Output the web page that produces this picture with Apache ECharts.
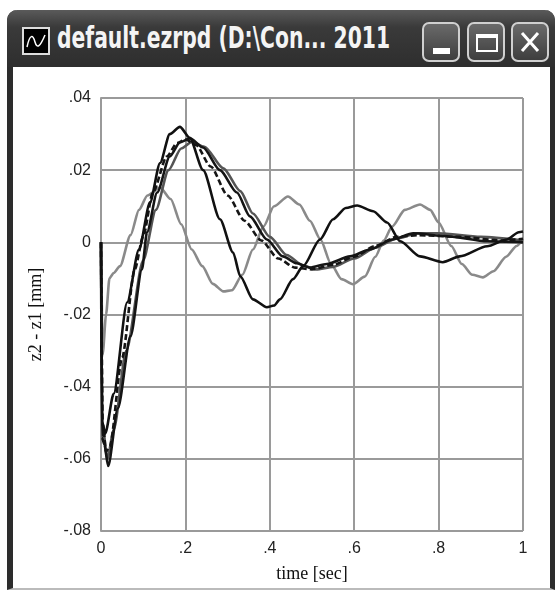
<!DOCTYPE html>
<html>
<head>
<meta charset="utf-8">
<script src="https://cdn.jsdelivr.net/npm/echarts@6/dist/echarts.min.js"></script>
<style>
  html, body { margin: 0; padding: 0; background: #fff; }
  #wrap { position: relative; width: 560px; height: 592px; overflow: hidden; }
  #frame { position: absolute; left: 7px; top: 10px; width: 548px; height: 580px;
    border-left: 6px solid #2c2c2c; border-right: 5px solid #2c2c2c; border-bottom: 2px solid #bbb;
    border-radius: 10px 10px 0 0; box-sizing: border-box; }
  #titleBar { position: absolute; left: 7px; top: 10px; width: 548px; height: 57px;
    background: linear-gradient(#5a5a5a, #3a3a3a 30%, #2e2e2e); border-radius: 10px 10px 0 0; }
  #titleText { position: absolute; left: 57px; top: 20px; color: #f4f4f4; font: bold 30px "DejaVu Sans", sans-serif;
    white-space: nowrap; transform-origin: 0 0; }
  .btn { position: absolute; top: 22px; width: 38px; height: 40px; box-sizing: border-box;
    border: 2px solid #d0d0d0; border-radius: 7px; background: linear-gradient(#6a6a6a, #3e3e3e); }
  #chart { position: absolute; left: 0; top: 0; width: 560px; height: 592px; }
</style>
</head>
<body>
<div id="wrap">
  <div id="frame"></div>
  <div id="chart"></div>
  <div id="titleBar"></div>
  <svg style="position:absolute;left:22px;top:27px" width="28" height="28">
    <rect x="1" y="1" width="26" height="26" fill="#000" stroke="#ddd" stroke-width="2"/>
    <path d="M5 20 C8 6, 11 8, 13 15 S18 20, 23 8" fill="none" stroke="#fff" stroke-width="1.5"/>
  </svg>
  <div id="titleText">default.ezrpd (D:\Con... 2011</div>
  <div class="btn" style="left:422px"><div style="position:absolute;left:9px;top:24px;width:17px;height:6px;background:#fff"></div></div>
  <div class="btn" style="left:467px"><div style="position:absolute;left:7px;top:10px;width:22px;height:18px;box-sizing:border-box;border:2px solid #fff;border-top-width:4px"></div></div>
  <div class="btn" style="left:511px">
    <svg width="34" height="36" style="position:absolute;left:0;top:0"><path d="M9 9 L25 27 M25 9 L9 27" stroke="#fff" stroke-width="3"/></svg>
  </div>
</div>
<script>
// title text squeezed to the width seen in the screenshot
const tt = document.getElementById('titleText')
tt.style.transform = 'scaleX(' + (333 / tt.offsetWidth) + ')'

// z2 - z1 [mm] vs time [sec], one array per run
const grayCurve = [[0,0],[0.004,-0.031],[0.012,-0.02],[0.02,-0.01],[0.03,-0.0085],[0.045,-0.0066],[0.07,0.002],[0.09,0.009],[0.11,0.013],[0.14,0.0152],[0.165,0.012],[0.19,0.005],[0.215,-0.002],[0.24,-0.0066],[0.265,-0.0115],[0.29,-0.0136],[0.31,-0.0133],[0.335,-0.009],[0.36,-0.002],[0.385,0.0044],[0.41,0.0100],[0.443,0.0127],[0.47,0.0105],[0.495,0.006],[0.52,0.0008],[0.545,-0.006],[0.57,-0.0102],[0.597,-0.0116],[0.625,-0.0095],[0.65,-0.004],[0.67,0.0005],[0.69,0.0044],[0.72,0.009],[0.756,0.0105],[0.78,0.009],[0.80,0.0055],[0.83,-0.001],[0.855,-0.006],[0.88,-0.009],[0.905,-0.0097],[0.93,-0.008],[0.96,-0.004],[0.985,-0.001],[1.0,0.001]]
const blackA = [[0,0],[0.003,-0.05],[0.01,-0.053],[0.03,-0.042],[0.062,-0.0166],[0.09,-0.002],[0.116,0.011],[0.14,0.022],[0.163,0.030],[0.187,0.032],[0.21,0.029],[0.242,0.020],[0.282,0.0064],[0.313,-0.0028],[0.33,-0.0094],[0.36,-0.0158],[0.393,-0.0180],[0.41,-0.0175],[0.424,-0.0158],[0.455,-0.0102],[0.479,-0.0066],[0.519,0.0008],[0.55,0.0064],[0.58,0.0095],[0.607,0.0102],[0.645,0.0086],[0.678,0.0055],[0.709,0.0003],[0.756,-0.0039],[0.81,-0.0055],[0.85,-0.0039],[0.915,-0.0011],[0.962,0.0008],[0.99,0.0028],[1,0.003]]
const blackB = [[0,0],[0.002,-0.054],[0.008,-0.056],[0.017,-0.062],[0.04,-0.046],[0.07,-0.026],[0.097,-0.0075],[0.109,0.0028],[0.133,0.0138],[0.163,0.0238],[0.187,0.0277],[0.211,0.0288],[0.242,0.0263],[0.282,0.020],[0.322,0.0138],[0.353,0.0072],[0.393,0.0008],[0.431,-0.0039],[0.464,-0.0058],[0.495,-0.007],[0.535,-0.006],[0.59,-0.0039],[0.637,-0.002],[0.69,0.0008],[0.74,0.0025],[0.82,0.0017],[0.915,0.0003],[1,0]]
const dashedC = [[0,0],[0.004,-0.05],[0.012,-0.058],[0.021,-0.0565],[0.05,-0.032],[0.08,-0.0075],[0.1,0.0017],[0.123,0.0138],[0.156,0.0238],[0.18,0.0275],[0.2,0.0285],[0.225,0.027],[0.26,0.021],[0.3,0.013],[0.34,0.006],[0.38,0.0005],[0.42,-0.0045],[0.46,-0.007],[0.5,-0.0075],[0.55,-0.0062],[0.6,-0.004],[0.65,-0.001],[0.7,0.0015],[0.75,0.002],[0.85,0.0015],[0.95,0.0005],[1,0.001]]
const grayD = [[0,0],[0.003,-0.05],[0.015,-0.06],[0.03,-0.052],[0.06,-0.03],[0.1,-0.005],[0.13,0.009],[0.16,0.02],[0.19,0.026],[0.215,0.0278],[0.245,0.0265],[0.29,0.0205],[0.33,0.0142],[0.36,0.008],[0.4,0.0015],[0.44,-0.0035],[0.48,-0.0065],[0.51,-0.0075],[0.55,-0.0068],[0.6,-0.0045],[0.65,-0.0015],[0.7,0.001],[0.75,0.0025],[0.8,0.0025],[0.9,0.0015],[1,0.0005]]

// ".04" style tick labels, no leading zero
const fmt = (v) => {
  const r = Math.round(v * 1000) / 1000
  if (r === 0) return '0'
  return String(r).replace('0.', '.')
}

const myChart = echarts.init(document.getElementById('chart'))
const gridColor = '#9a9a9a'
const mkLine = (data, color, type) => ({
  type: 'line', data: data, showSymbol: false, smooth: 0.25, smoothMonotone: 'x',
  lineStyle: { color: color, width: 2.6, type: type || 'solid' }
})
const option = {
  animation: false,
  grid: { left: 101, right: 37, top: 98, bottom: 61 },
  xAxis: {
    type: 'value', min: 0, max: 1, interval: 0.2,
    name: 'time [sec]', nameLocation: 'middle', nameGap: 34,
    nameTextStyle: { fontFamily: 'Liberation Serif', fontSize: 18, color: '#111' },
    axisLine: { lineStyle: { color: gridColor, width: 2 } },
    axisTick: { show: false },
    axisLabel: { formatter: fmt, margin: 10, fontFamily: 'Liberation Sans', fontSize: 16, color: '#222' },
    splitLine: { lineStyle: { color: gridColor, width: 2 } }
  },
  yAxis: {
    type: 'value', min: -0.08, max: 0.04, interval: 0.02,
    name: 'z2 - z1 [mm]', nameLocation: 'middle', nameGap: 56,
    nameTextStyle: { fontFamily: 'Liberation Serif', fontSize: 18, color: '#111' },
    axisLine: { show: true, lineStyle: { color: gridColor, width: 2 } },
    axisTick: { show: false },
    axisLabel: { formatter: fmt, margin: 10, fontFamily: 'Liberation Sans', fontSize: 16, color: '#222' },
    splitLine: { lineStyle: { color: gridColor, width: 2 } }
  },
  series: [
    mkLine(grayCurve, '#8a8a8a'),
    mkLine(grayD, '#555555'),
    mkLine(blackB, '#151515'),
    mkLine(dashedC, '#151515', [6, 3]),
    mkLine(blackA, '#111111')
  ]
}
myChart.setOption(option)
</script>
</body>
</html>
